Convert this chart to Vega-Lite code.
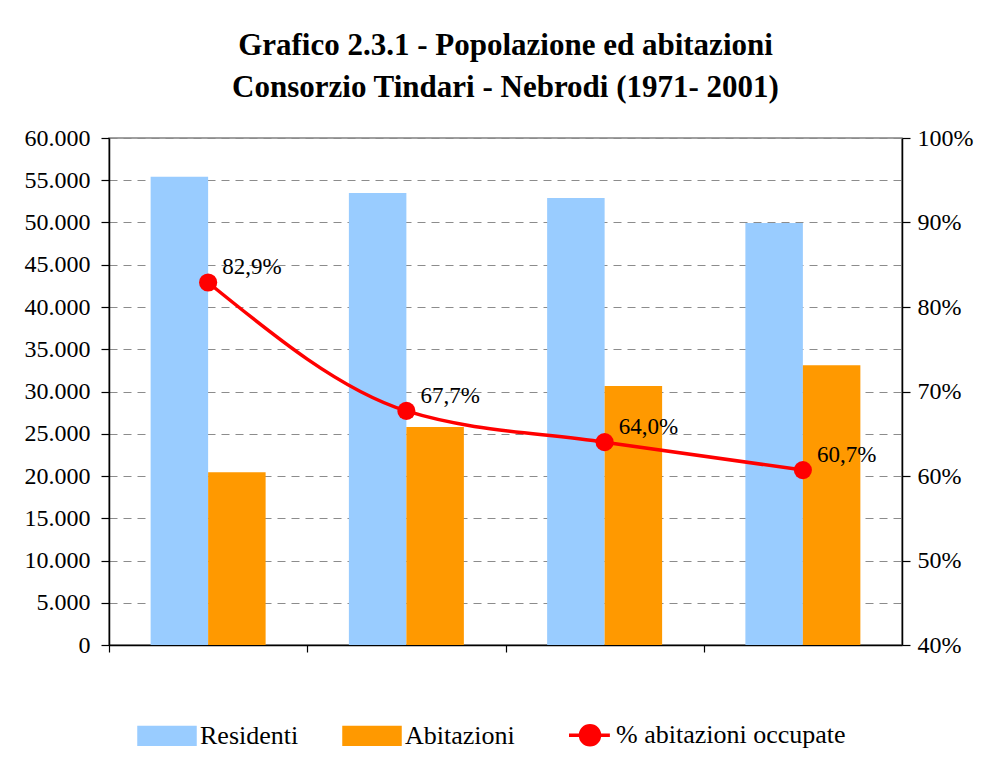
{
  "$schema": "https://vega.github.io/schema/vega-lite/v6.json",
  "autosize": {"type": "none"},
  "padding": {"left": 109, "top": 138, "right": 103, "bottom": 132},
  "width": 793,
  "height": 507,
  "background": "white",
  "config": {
    "locale": {"number": {"decimal": ",", "thousands": ".", "grouping": [3], "currency": ["€", ""]}},
    "font": "Liberation Serif",
    "view": {"stroke": "#808080", "strokeWidth": 1.5},
    "axis": {"labelFont": "Liberation Serif", "labelFontSize": 24, "labelColor": "black", "domainColor": "black", "tickColor": "black", "domainWidth": 1.5, "tickWidth": 1.2}
  },
  "title": {
    "text": ["Grafico 2.3.1 - Popolazione ed abitazioni", "Consorzio Tindari - Nebrodi (1971- 2001)"],
    "font": "Liberation Serif",
    "fontSize": 31,
    "fontWeight": "bold",
    "color": "black",
    "anchor": "middle",
    "lineHeight": 42,
    "offset": 22
  },
  "data": {
    "values": [
      {"anno": "1971", "Residenti": 55400, "Abitazioni": 20450, "pct": 0.829},
      {"anno": "1981", "Residenti": 53500, "Abitazioni": 25800, "pct": 0.677},
      {"anno": "1991", "Residenti": 52900, "Abitazioni": 30650, "pct": 0.640},
      {"anno": "2001", "Residenti": 49950, "Abitazioni": 33100, "pct": 0.607}
    ]
  },
  "encoding": {
    "x": {
      "field": "anno",
      "type": "nominal",
      "scale": {"paddingInner": 0.42, "paddingOuter": 0.21},
      "axis": {"title": null, "labels": false, "ticks": true, "tickSize": 7, "bandPosition": 0, "tickOffset": -41.6, "grid": false, "domainColor": "black"}
    }
  },
  "layer": [
    {
      "transform": [{"fold": ["Residenti", "Abitazioni"], "as": ["serie", "valore"]}],
      "mark": {"type": "bar"},
      "encoding": {
        "xOffset": {"field": "serie", "type": "nominal", "scale": {"domain": ["Residenti", "Abitazioni"], "paddingInner": 0, "paddingOuter": 0}},
        "y": {
          "field": "valore",
          "type": "quantitative",
          "scale": {"domain": [0, 60000], "nice": false},
          "axis": {
            "title": null,
            "values": [0, 5000, 10000, 15000, 20000, 25000, 30000, 35000, 40000, 45000, 50000, 55000, 60000],
            "format": ",d",
            "tickSize": 8,
            "labelPadding": 11,
            "grid": true,
            "gridColor": "#8c8c8c",
            "gridDash": [8, 6],
            "gridWidth": 1.2
          }
        },
        "color": {
          "field": "serie",
          "type": "nominal",
          "scale": {"domain": ["Residenti", "Abitazioni", "% abitazioni occupate"], "range": ["#99CCFF", "#FF9900", "#FF0000"]},
          "legend": {
            "orient": "none",
            "legendX": 28,
            "legendY": 567,
            "direction": "horizontal",
            "title": null,
            "labelFont": "Liberation Serif",
            "labelFontSize": 26,
            "labelColor": "black",
            "labelOffset": 3,
            "labelLimit": 400,
            "columnPadding": 38,
            "symbolSize": 3136,
            "encode": {
              "symbols": {
                "update": {
                  "shape": {"signal": "datum.value === '% abitazioni occupate' ? 'M-0.5,0H0.96M0.59,0A0.34,0.34 0 1,1 -0.09,0A0.34,0.34 0 1,1 0.59,0Z' : 'M-1,-0.3H1V0.3H-1Z'"},
                  "fill": {"signal": "scale('color', datum.value)"},
                  "stroke": {"signal": "datum.value === '% abitazioni occupate' ? scale('color', datum.value) : 'transparent'"},
                  "strokeWidth": {"value": 3.5},
                  "opacity": {"value": 1},
                  "fillOpacity": {"value": 1}
                }
              }
            }
          }
        }
      }
    },
    {
      "mark": {"type": "line", "interpolate": "monotone", "strokeWidth": 3.5, "point": {"filled": true, "size": 330, "opacity": 1}},
      "encoding": {
        "y": {
          "field": "pct",
          "type": "quantitative",
          "scale": {"domain": [0.4, 1.0], "nice": false, "zero": false},
          "axis": {"orient": "right", "title": null, "values": [0.4, 0.5, 0.6, 0.7, 0.8, 0.9, 1.0], "format": ".0%", "tickSize": 8, "labelPadding": 7, "grid": false}
        },
        "color": {"datum": "% abitazioni occupate"}
      }
    },
    {
      "mark": {"type": "text", "align": "left", "baseline": "alphabetic", "dx": 14, "dy": -8, "font": "Liberation Serif", "fontSize": 23, "color": "black"},
      "encoding": {
        "y": {"field": "pct", "type": "quantitative", "scale": {"domain": [0.4, 1.0], "nice": false, "zero": false}, "axis": null},
        "text": {"field": "pct", "type": "quantitative", "format": ".1%"}
      }
    }
  ],
  "resolve": {"scale": {"y": "independent"}}
}
